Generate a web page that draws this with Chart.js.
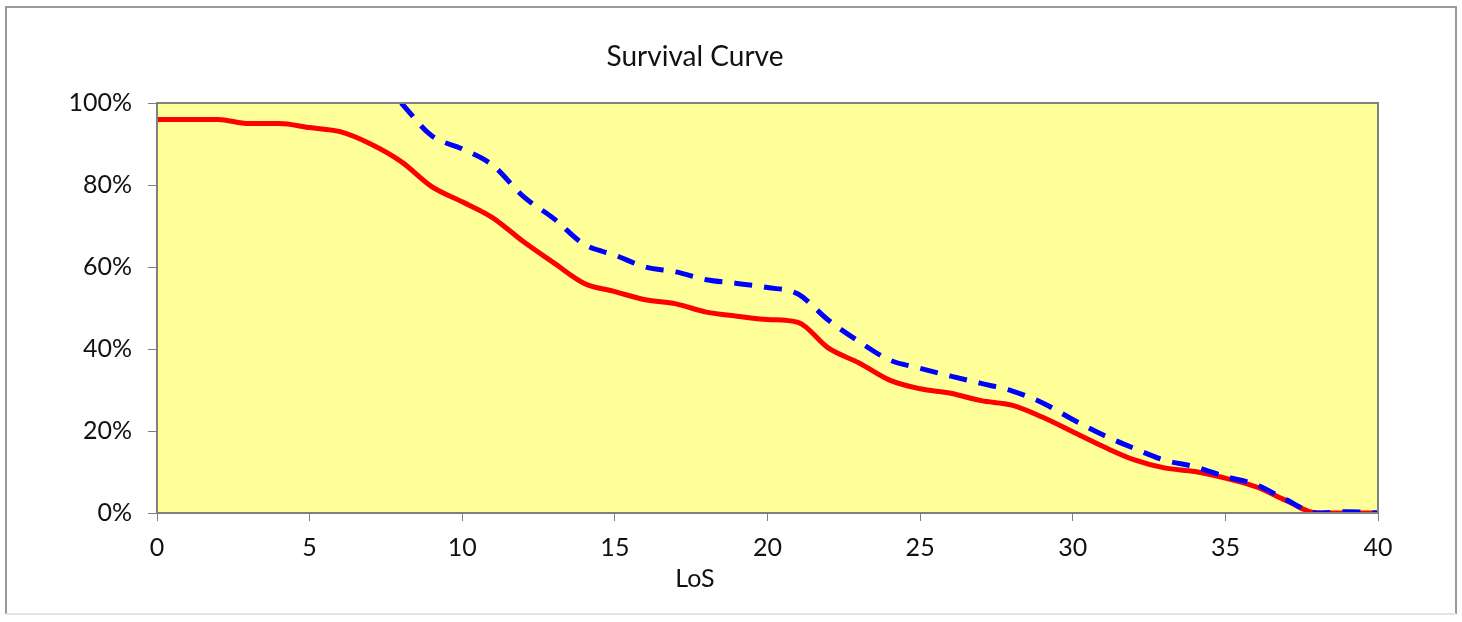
<!DOCTYPE html>
<html>
<head>
<meta charset="utf-8">
<script src="https://cdn.jsdelivr.net/npm/chart.js@4/dist/chart.umd.min.js"></script>
<style>
  html, body { margin: 0; padding: 0; background: #ffffff; }
  #wrap { width: 1462px; height: 622px; position: relative; }
</style>
</head>
<body>
<div id="wrap"><canvas id="c"></canvas></div>
<script>
// length of stay, days
const los = [0,1,2,3,4,5,6,7,8,9,10,11,12,13,14,15,16,17,18,19,20,
             21,22,23,24,25,26,27,28,29,30,31,32,33,34,35,36,37,38,39,40];
// survival, percent
const observed = [96,96,96,95,95,94,93,90,85.7,79.6,75.9,72,66.2,61,56,54,52,51,49,48,47.2,
                  46.5,40.2,36.6,32.4,30.3,29.2,27.4,26.3,23.4,19.8,16.2,13,11,10.1,8.5,6.4,3,0,0,0];
const expected = [null,null,null,null,null,null,null,null,100,92,88.8,84.8,77.2,71.8,65.5,62.9,
                  60,58.8,56.9,56,55,53.4,47,41.8,37.3,35.3,33.4,31.6,29.8,26.9,22.8,19,15.8,
                  12.9,11.3,8.9,6.9,3.2,0,0.3,0];
const xTicks = [0,5,10,15,20,25,30,35,40];
const yTicks = [0,20,40,60,80,100];

const FONT = 'Lato, "Liberation Sans", sans-serif';

// yellow plot background, plot border, frame and free-placed titles
const decor = {
  id: 'decor',
  beforeDraw(chart) {
    const {ctx, chartArea: a} = chart;
    ctx.save();
    ctx.fillStyle = '#FFFF99';
    ctx.fillRect(a.left, a.top, a.right - a.left, a.bottom - a.top);
    ctx.restore();
  },
  afterDraw(chart) {
    const {ctx, chartArea: a} = chart;
    ctx.save();
    ctx.strokeStyle = '#808080';
    ctx.lineWidth = 2;
    ctx.strokeRect(a.left, a.top, a.right - a.left, a.bottom - a.top);
    // outer frame
    ctx.strokeStyle = '#9a9a9a';
    ctx.lineWidth = 2;
    ctx.beginPath();
    ctx.moveTo(6, 614); ctx.lineTo(6, 7); ctx.lineTo(1456, 7); ctx.lineTo(1456, 614);
    ctx.stroke();
    ctx.strokeStyle = '#e4e4e4';
    ctx.beginPath(); ctx.moveTo(6, 614); ctx.lineTo(1456, 614); ctx.stroke();
    // titles
    ctx.fillStyle = '#111111';
    ctx.textAlign = 'center';
    ctx.textBaseline = 'middle';
    ctx.font = '28px ' + FONT;
    ctx.fillText('Survival Curve', 695, 57);
    ctx.font = '25px ' + FONT;
    ctx.fillText('LoS', 695, 579);
    ctx.restore();
  }
};

new Chart(document.getElementById('c'), {
  type: 'line',
  data: {
    datasets: [
      {
        label: 'Observed',
        data: los.map((x, i) => ({x: x, y: observed[i]})),
        borderColor: '#FF0000',
        borderWidth: 5,
        pointRadius: 0,
        cubicInterpolationMode: 'monotone',
        order: 1
      },
      {
        label: 'Expected',
        data: los.map((x, i) => ({x: x, y: expected[i]})),
        borderColor: '#0000FF',
        borderWidth: 5,
        borderDash: [18, 12],
        pointRadius: 0,
        spanGaps: false,
        cubicInterpolationMode: 'monotone',
        order: 0
      }
    ]
  },
  options: {
    responsive: true,
    maintainAspectRatio: false,
    animation: false,
    layout: { padding: { top: 103, right: 84, left: 0, bottom: 0 } },
    plugins: {
      legend: { display: false },
      title: { display: false },
      tooltip: { enabled: false }
    },
    scales: {
      x: {
        type: 'linear',
        min: 0,
        max: 40,
        afterBuildTicks: s => { s.ticks = xTicks.map(v => ({value: v})); },
        afterFit: s => { s.height = 109; },
        grid: { drawOnChartArea: false, drawTicks: true, tickLength: 8, color: '#808080' },
        border: { color: '#808080', width: 2 },
        ticks: { color: '#111111', font: { family: FONT, size: 25 }, padding: 12, maxRotation: 0 }
      },
      y: {
        min: 0,
        max: 100,
        afterBuildTicks: s => { s.ticks = yTicks.map(v => ({value: v})); },
        afterFit: s => { s.width = 157; },
        grid: { drawOnChartArea: false, drawTicks: true, tickLength: 9, color: '#808080' },
        border: { color: '#808080', width: 2 },
        ticks: {
          color: '#111111',
          font: { family: FONT, size: 25 },
          padding: 16,
          callback: v => v + '%'
        }
      }
    }
  },
  plugins: [decor]
});
</script>
</body>
</html>
